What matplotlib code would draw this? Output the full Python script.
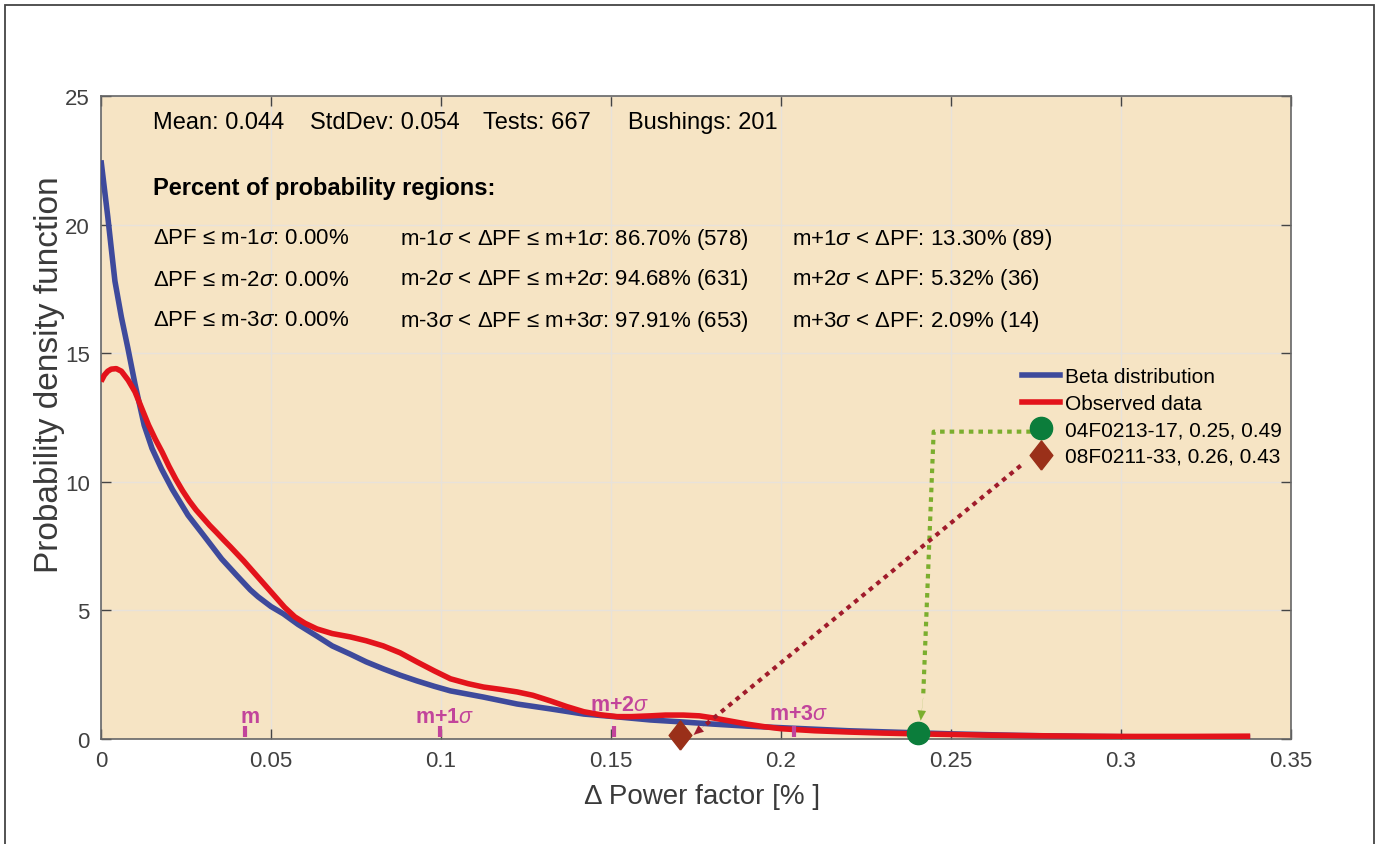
import matplotlib
matplotlib.use("Agg")
import matplotlib.pyplot as plt
from matplotlib.lines import Line2D
from matplotlib.patches import Rectangle

# ---------------- data ----------------
beta_x = [0.0, 0.001, 0.002, 0.003, 0.0041, 0.006, 0.0079, 0.010, 0.0127, 0.015,
          0.0178, 0.021, 0.0256, 0.030, 0.0355, 0.040, 0.0439, 0.0462, 0.050, 0.0536,
          0.058, 0.0635, 0.068, 0.0733, 0.078, 0.083, 0.088, 0.0929, 0.098, 0.1028,
          0.1125, 0.1224, 0.1322, 0.142, 0.1518, 0.1616, 0.1713, 0.18, 0.19, 0.2,
          0.21, 0.22, 0.23, 0.24, 0.25, 0.27, 0.29, 0.31, 0.338]
beta_y = [22.5, 21.4, 20.3, 19.1, 17.8, 16.4, 15.2, 13.8, 12.2, 11.3,
          10.5, 9.7, 8.7, 7.95, 7.0, 6.35, 5.8, 5.53, 5.15, 4.87,
          4.45, 4.0, 3.62, 3.3, 3.0, 2.73, 2.48, 2.26, 2.05, 1.87,
          1.63, 1.36, 1.17, 0.97, 0.86, 0.74, 0.66, 0.58, 0.5, 0.44,
          0.38, 0.32, 0.28, 0.24, 0.2, 0.14, 0.1, 0.08, 0.06]

obs_x = [0.0, 0.001, 0.002, 0.003, 0.0045, 0.006, 0.008, 0.010, 0.012, 0.014,
         0.016, 0.018, 0.020, 0.022, 0.024, 0.026, 0.028, 0.030, 0.032, 0.034,
         0.036, 0.038, 0.040, 0.042, 0.044, 0.046, 0.048, 0.050, 0.052, 0.054,
         0.057, 0.060, 0.0635, 0.068, 0.0733, 0.078, 0.083, 0.088, 0.0929, 0.098,
         0.1028, 0.108, 0.1125, 0.1175, 0.1224, 0.127, 0.1322, 0.137, 0.142, 0.147,
         0.1518, 0.156, 0.1616, 0.166, 0.1713, 0.176, 0.180, 0.185, 0.190, 0.195,
         0.200, 0.210, 0.220, 0.230, 0.240, 0.260, 0.280, 0.300, 0.320, 0.338]
obs_y = [13.9, 14.15, 14.3, 14.38, 14.4, 14.3, 13.95, 13.5, 12.85, 12.2,
         11.65, 11.15, 10.6, 10.1, 9.65, 9.25, 8.9, 8.6, 8.3, 8.03,
         7.75, 7.48, 7.2, 6.92, 6.62, 6.32, 6.02, 5.72, 5.42, 5.12,
         4.75, 4.5, 4.28, 4.1, 3.97, 3.82, 3.62, 3.35, 3.0, 2.65,
         2.34, 2.15, 2.02, 1.93, 1.83, 1.7, 1.48, 1.26, 1.06, 0.94,
         0.87, 0.87, 0.9, 0.93, 0.93, 0.9, 0.82, 0.7, 0.58, 0.48,
         0.4, 0.32, 0.27, 0.23, 0.2, 0.15, 0.12, 0.1, 0.1, 0.11]

sigma_labels = ["m", "m+1$\\sigma$", "m+2$\\sigma$", "m+3$\\sigma$"]
sigma_pos = [0.0423, 0.0996, 0.151, 0.2037]
sigma_label_y = [0.45, 0.45, 0.95, 0.6]

bushing_labels = ["04F0213-17, 0.25, 0.49", "08F0211-33, 0.26, 0.43"]
bushing_x = [0.2402, 0.1702]
bushing_y = [0.22, 0.15]

stats_labels = ["Mean: 0.044", "StdDev: 0.054", "Tests: 667", "Bushings: 201"]
region_rows = [
    ["\u0394PF \u2264 m-1$\\sigma$: 0.00%",
     "m-1$\\sigma$ < \u0394PF \u2264 m+1$\\sigma$: 86.70% (578)",
     "m+1$\\sigma$ < \u0394PF: 13.30% (89)"],
    ["\u0394PF \u2264 m-2$\\sigma$: 0.00%",
     "m-2$\\sigma$ < \u0394PF \u2264 m+2$\\sigma$: 94.68% (631)",
     "m+2$\\sigma$ < \u0394PF: 5.32% (36)"],
    ["\u0394PF \u2264 m-3$\\sigma$: 0.00%",
     "m-3$\\sigma$ < \u0394PF \u2264 m+3$\\sigma$: 97.91% (653)",
     "m+3$\\sigma$ < \u0394PF: 2.09% (14)"],
]
xticks = [0, 0.05, 0.1, 0.15, 0.2, 0.25, 0.3, 0.35]
xtick_labels = ["0", "0.05", "0.1", "0.15", "0.2", "0.25", "0.3", "0.35"]
yticks = [0, 5, 10, 15, 20, 25]

# ---------------- style ----------------
plt.rcParams['font.family'] = ['Liberation Sans', 'DejaVu Sans']
plt.rcParams['mathtext.fontset'] = 'custom'
plt.rcParams['mathtext.rm'] = 'Liberation Sans'
plt.rcParams['mathtext.it'] = 'Liberation Sans:italic'
plt.rcParams['mathtext.bf'] = 'Liberation Sans:bold'

BG = '#F6E4C4'
BLUE = '#3E4A9C'
RED = '#E3131B'
GREEN = '#0B7D3B'
DIAM = '#9A3019'
GDOT = '#7BAE2E'
RDOT = '#A01B2B'
MAG = '#C2449B'

fig = plt.figure(figsize=(13.79, 8.45), dpi=100)
fig.patches.append(Rectangle((5 / 1379, -0.01), 1369 / 1379, 1 - 6 / 845 + 0.01,
                             transform=fig.transFigure, fill=False,
                             edgecolor='#444444', lw=1.3))
ax = fig.add_axes([101 / 1379, 1 - 740 / 845, 1190 / 1379, 643 / 845])
ax.set_facecolor(BG)
ax.set_xlim(0, 0.35)
ax.set_ylim(0, 25)
ax.set_xticks(xticks)
ax.set_xticklabels(xtick_labels)
ax.set_yticks(yticks)
ax.grid(True, color='#E8E2DA', lw=1.0)
ax.set_axisbelow(True)
ax.tick_params(direction='in', length=7, width=1, colors='#444444', labelcolor='#404040',
               labelsize=16, top=True, right=True, pad=8)
for s in ax.spines.values():
    s.set_color('#666666')
    s.set_linewidth(1.2)

ax.plot(beta_x, beta_y, color=BLUE, lw=4.0, solid_capstyle='butt',
        solid_joinstyle='round', zorder=3)
ax.plot(obs_x, obs_y, color=RED, lw=4.0, solid_capstyle='butt',
        solid_joinstyle='round', zorder=4)

# sigma markers
for p, lab, ly in zip(sigma_pos, sigma_labels, sigma_label_y):
    ax.plot([p, p], [0.08, 0.5], color=MAG, lw=3, solid_capstyle='butt', zorder=5)
    ax.text(p + 0.0015, ly, lab, color=MAG, fontsize=15.5, fontweight='bold',
            ha='center', va='bottom', zorder=5)

# annotation connectors
gx0, gy0 = 0.2735, 11.95
gx1 = 0.2449
gtip = (0.2411, 0.72)
ax.plot([gx0, gx1, 0.2418], [gy0, gy0, 1.6], color=GDOT, lw=3,
        linestyle=(0, (1.1, 1.2)), zorder=5)
ax.annotate('', xy=gtip, xytext=(0.2418, 1.6),
            arrowprops=dict(arrowstyle='-|>,head_length=0.7,head_width=0.3',
                            color=GDOT, lw=0.1, shrinkA=0, shrinkB=0), zorder=5)
rx0, ry0 = 0.2705, 10.63
rtip = (0.1743, 0.16)
ax.plot([rx0, 0.1775], [ry0, 0.52], color=RDOT, lw=3,
        linestyle=(0, (1.1, 1.2)), zorder=5)
ax.annotate('', xy=rtip, xytext=(0.1775, 0.52),
            arrowprops=dict(arrowstyle='-|>,head_length=0.7,head_width=0.3',
                            color=RDOT, lw=0.1, shrinkA=0, shrinkB=0), zorder=5)

DIAMOND = [(0, -1), (0.78, 0), (0, 1), (-0.78, 0), (0, -1)]
ax.plot(bushing_x[0], bushing_y[0], 'o', color=GREEN, ms=16, zorder=6, clip_on=False)
ax.plot(bushing_x[1], bushing_y[1], marker=DIAMOND, color=DIAM, ms=21, lw=0,
        zorder=6, clip_on=False)

# legend
handles = [Line2D([], [], color=BLUE, lw=4),
           Line2D([], [], color=RED, lw=4),
           Line2D([], [], marker='o', color=GREEN, ms=16, lw=0),
           Line2D([], [], marker=DIAMOND, color=DIAM, ms=21, lw=0)]
labels = ["Beta distribution", "Observed data"] + bushing_labels
ax.legend(handles, labels, loc='upper left', bbox_to_anchor=(0.774, 0.578),
          frameon=False, fontsize=15, handlelength=1.8, handletextpad=0.25,
          labelspacing=0.36, borderpad=0, borderaxespad=0)

# text block
stat_x = [153, 310, 483, 628]
for sx, s in zip(stat_x, stats_labels):
    ax.text((sx - 101) / 1190, (740 - 123) / 643, s, transform=ax.transAxes,
            fontsize=17, va='center', ha='left')
ax.text((153 - 101) / 1190, (740 - 189) / 643, "Percent of probability regions:",
        transform=ax.transAxes, fontsize=17, fontweight='bold',
        va='center', ha='left')
col_x = [153, 400, 792]
row_y = [239, 280, 321]
for ry, row in zip(row_y, region_rows):
    for cx, s in zip(col_x, row):
        ax.text((cx - 101) / 1190, (740 - ry) / 643, s, transform=ax.transAxes,
                fontsize=16, va='center', ha='left')

fig.text(702 / 1379, 1 - 797 / 845, "\u0394 Power factor [% ]", fontsize=20,
         color='#3a3a3a', ha='center', va='center')
fig.text(50 / 1379, 1 - 375 / 845, "Probability density function", fontsize=24,
         color='#3a3a3a', ha='center', va='center', rotation=90)

fig.savefig("out.png", dpi=100)
